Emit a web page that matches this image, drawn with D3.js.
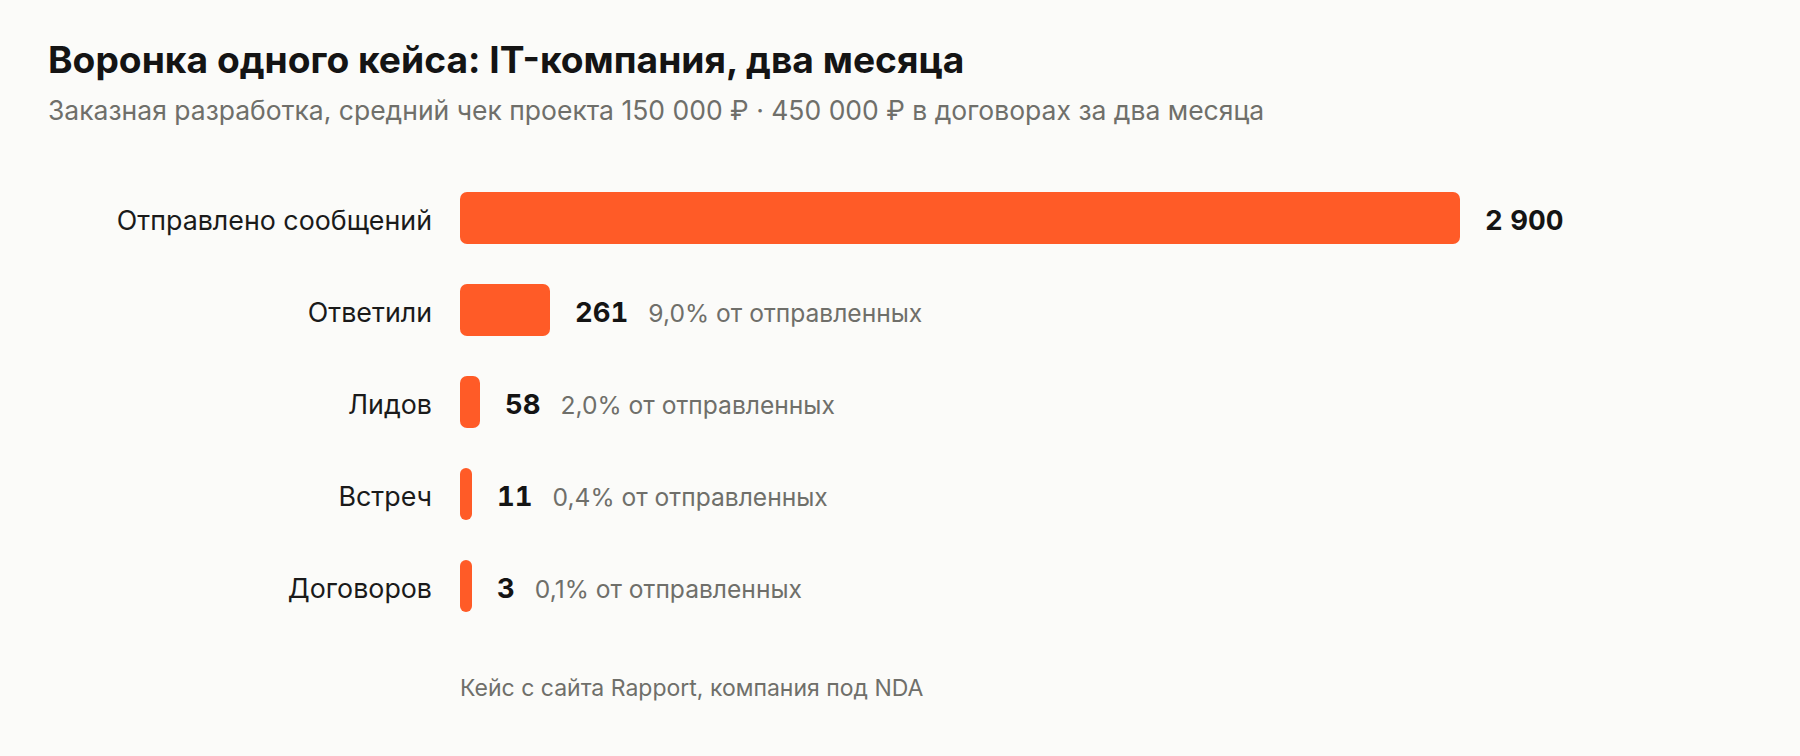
<!DOCTYPE html>
<html>
<head>
<meta charset="utf-8">
<script src="https://cdn.jsdelivr.net/npm/d3@7"></script>
<style>
  html, body { margin: 0; padding: 0; background: #fbfbf9; }
  svg { display: block; font-family: Inter, "Noto Sans", sans-serif; }
  .num { font-variant-numeric: tabular-nums; font-feature-settings: "tnum" 1; }
</style>
</head>
<body>
<div id="chart"></div>
<script>
// funnel stages, top to bottom
var stages = ["Отправлено сообщений", "Ответили", "Лидов", "Встреч", "Договоров"];
var counts = [2900, 261, 58, 11, 3];
var shares = ["", "9,0%", "2,0%", "0,4%", "0,1%"];

var title = "Воронка одного кейса: IT-компания, два месяца";
var subtitle = "Заказная разработка, средний чек проекта 150 000 ₽ · 450 000 ₽ в договорах за два месяца";
var note = "Кейс с сайта Rapport, компания под NDA";

var width = 1800, height = 756;
var barLeft = 460, barMax = 1000, minBar = 12;

var data = stages.map(function(s, i) {
  return { stage: s, count: counts[i], share: shares[i] };
});

var fmt = d3.formatLocale({ decimal: ",", thousands: "\u00a0", grouping: [3], currency: ["", ""] }).format(",d");

var svg = d3.select("#chart")
  .append("svg")
    .attr("width", width)
    .attr("height", height);

svg.append("rect")
  .attr("width", width)
  .attr("height", height)
  .attr("fill", "#fbfbf9");

// header
svg.append("text")
  .attr("x", 48)
  .attr("y", 73)
  .style("font-size", "37.2px")
  .style("font-weight", 700)
  .attr("fill", "#141414")
  .text(title);

svg.append("text")
  .attr("x", 48)
  .attr("y", 120)
  .style("font-size", "26.5px")
  .attr("fill", "#6f6f6a")
  .text(subtitle);

var x = d3.scaleLinear()
  .domain([0, d3.max(counts)])
  .range([0, barMax]);

var y = d3.scaleBand()
  .domain(stages)
  .range([172, 632])
  .paddingInner(0.4348)
  .paddingOuter(0.2174);

var g = svg.append("g").attr("transform", "translate(" + barLeft + ",0)");

var row = g.selectAll(".row")
  .data(data)
  .enter()
  .append("g")
    .attr("class", "row")
    .attr("transform", function(d) { return "translate(0," + y(d.stage) + ")"; });

var bh = y.bandwidth();

function barW(d) { return Math.max(minBar, x(d.count)); }

// stage names
row.append("text")
  .attr("x", -28)
  .attr("y", bh / 2 + 12)
  .attr("text-anchor", "end")
  .style("font-size", "26.8px")
  .attr("fill", "#1a1a1a")
  .text(function(d) { return d.stage; });

// bars
row.append("rect")
  .attr("x", 0)
  .attr("y", 0)
  .attr("width", barW)
  .attr("height", bh)
  .attr("rx", function(d) { return Math.min(7, barW(d) / 2); })
  .attr("fill", "#ff5b27");

// counts
var num = row.append("text")
  .attr("class", "num")
  .attr("x", function(d) { return barW(d) + 25; })
  .attr("y", bh / 2 + 12)
  .style("font-size", "27.5px")
  .style("font-weight", 700)
  .attr("fill", "#141414")
  .text(function(d) { return fmt(d.count); });

// share of sent
num.each(function(d) {
  if (!d.share) return;
  var w = this.getBBox().width;
  d3.select(this.parentNode).append("text")
    .attr("x", barW(d) + 25 + w + 20)
    .attr("y", bh / 2 + 12)
    .style("font-size", "24.6px")
    .attr("fill", "#6f6f6a")
    .text(d.share + " от отправленных");
});

svg.append("text")
  .attr("x", barLeft)
  .attr("y", 696)
  .style("font-size", "23px")
  .attr("fill", "#6f6f6a")
  .text(note);
</script>
</body>
</html>
